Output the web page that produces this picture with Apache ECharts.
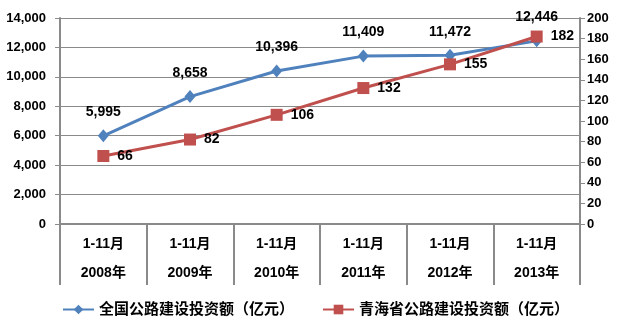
<!DOCTYPE html>
<html><head><meta charset="utf-8">
<script src="https://cdn.jsdelivr.net/npm/echarts@6/dist/echarts.min.js"></script>
<style>html,body{margin:0;padding:0;background:#fff}#c{width:625px;height:321px}</style>
</head><body><div id="c"></div>
<script>
const periods = ['1-11月','1-11月','1-11月','1-11月','1-11月','1-11月'];
const years = ['2008年','2009年','2010年','2011年','2012年','2013年'];
const nationalInvest = [5995, 8658, 10396, 11409, 11472, 12446];
const qinghaiInvest = [66, 82, 106, 132, 155, 182];
const seriesNames = ['全国公路建设投资额（亿元）','青海省公路建设投资额（亿元）'];
const leftTicks = [0, 14000, 2000];
const rightTicks = [0, 200, 20];

const FONT = '"Liberation Sans", "Noto Sans CJK SC", sans-serif';
const categories = years.map((y, i) => periods[i] + '\n' + y);
const chart = echarts.init(document.getElementById('c'));
const fmt = v => v.toLocaleString('en-US');
const GRAY = '#8a8a8a';
chart.setOption({
  animation: false,
  textStyle: {fontFamily: FONT},
  grid: {left: 60, right: 45, top: 18, bottom: 97},
  legend: {
    top: 297, left: 57, itemGap: 28, itemWidth: 31, itemHeight: 12,
    textStyle: {fontSize: 15, color: '#000', fontFamily: FONT, fontWeight: 'bold'},
    data: [seriesNames[0], seriesNames[1]]
  },
  xAxis: {
    type: 'category', data: categories, boundaryGap: true,
    axisLine: {lineStyle: {color: GRAY, width: 2}},
    axisTick: {show: true, length: 61, interval: 0, lineStyle: {color: GRAY, width: 2}},
    axisLabel: {interval: 0, margin: 6, fontSize: 14, lineHeight: 29, color: '#000', fontWeight: 'bold', fontFamily: FONT}
  },
  yAxis: [{
    type: 'value', min: leftTicks[0], max: leftTicks[1], interval: leftTicks[2],
    axisLine: {show: true, lineStyle: {color: GRAY, width: 2}},
    axisTick: {show: true, length: 5, lineStyle: {color: GRAY}},
    splitLine: {lineStyle: {color: GRAY, width: 1}},
    axisLabel: {fontSize: 13, color: '#000', margin: 14, fontWeight: 'bold', formatter: fmt, fontFamily: FONT}
  }, {
    type: 'value', min: rightTicks[0], max: rightTicks[1], interval: rightTicks[2],
    axisLine: {show: true, lineStyle: {color: GRAY, width: 2}},
    axisTick: {show: true, length: 5, lineStyle: {color: GRAY}},
    splitLine: {show: false},
    axisLabel: {fontSize: 13, color: '#000', margin: 7, fontWeight: 'bold', fontFamily: FONT}
  }],
  series: [{
    name: seriesNames[0], type: 'line', yAxisIndex: 0, data: nationalInvest,
    symbol: 'diamond', symbolSize: [11, 13], z: 2,
    lineStyle: {color: '#4F81BD', width: 3}, itemStyle: {color: '#4F81BD'},
    label: {show: true, position: 'top', distance: 10, fontSize: 14, color: '#000', fontWeight: 'bold', formatter: p => fmt(p.value), fontFamily: FONT}
  }, {
    name: seriesNames[1], type: 'line', yAxisIndex: 1, data: qinghaiInvest,
    symbol: 'rect', symbolSize: 12, z: 3,
    lineStyle: {color: '#C0504D', width: 3}, itemStyle: {color: '#C0504D'},
    label: {show: true, position: 'right', distance: 8, fontSize: 14, color: '#000', fontWeight: 'bold', fontFamily: FONT}
  }]
});
</script></body></html>
